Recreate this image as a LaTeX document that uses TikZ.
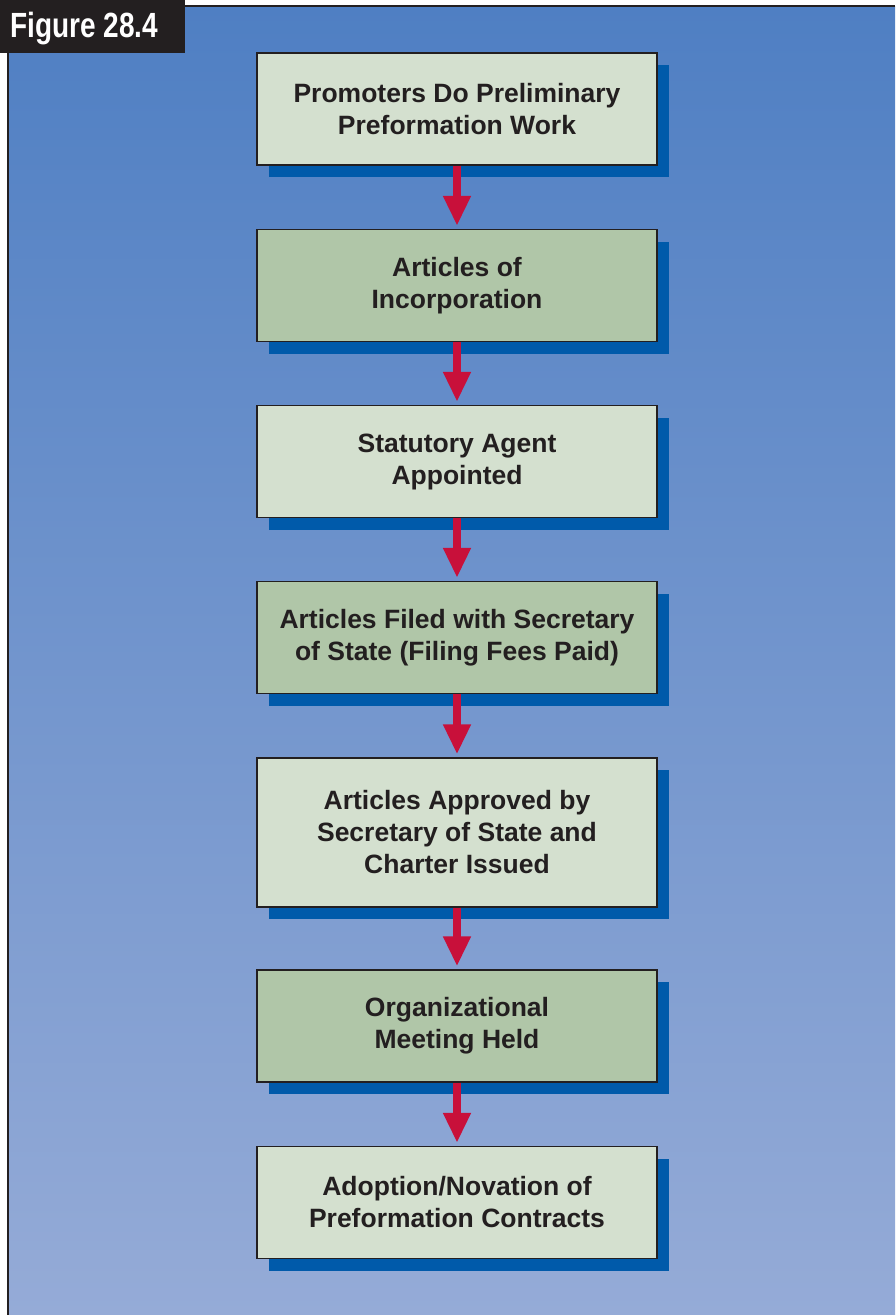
\documentclass[tikz,border=0pt]{standalone}
\usepackage{fontspec}
\setmainfont{Liberation Sans}
\newfontfamily\figfont[FakeStretch=0.8]{Liberation Sans}
\usetikzlibrary{arrows.meta,shadows}

\definecolor{panetop}{RGB}{79,127,195}
\definecolor{panebot}{RGB}{149,171,215}
\definecolor{paleface}{RGB}{212,224,207}
\definecolor{sageface}{RGB}{176,198,168}
\definecolor{shadeblue}{RGB}{0,90,170}
\definecolor{flowred}{RGB}{200,16,58}
\definecolor{inkgray}{RGB}{35,31,32}

\begin{document}
\begin{tikzpicture}[x=1pt, y=-1pt,
	stepbox/.style={draw=inkgray, line width=1.3pt, fill=paleface, minimum width=400pt, minimum height=112pt,
		inner sep=0pt, align=center, text=inkgray, font=\fontsize{26.5}{32}\selectfont\bfseries,
		drop shadow={shadow xshift=12pt, shadow yshift=-12pt, fill=shadeblue, opacity=1}},
	darkbox/.style={stepbox, fill=sageface},
	flow/.style={draw=flowred, line width=8pt, -{Triangle[width=26pt,length=30pt]}}]
	\useasboundingbox (0,0) rectangle (895,1315);
	\fill[white] (0,0) rectangle (895,1315);
	\shade[top color=panetop, bottom color=panebot] (8,6) rectangle (895,1315);
	\draw[inkgray, line width=1.5pt] (8,1315) -- (8,6) -- (895,6);
	\fill[inkgray] (0,0) rectangle (185,53);
	\node[text=white, anchor=base west, font=\figfont\fontsize{35}{35}\selectfont\bfseries] (fig) at (7,37) {Figure 28.4};

	\node[stepbox] (promo) at (457,109) {Promoters Do Preliminary\\Preformation Work};
	\node[darkbox] (artinc) at (457,285.5) {Articles of\\Incorporation};
	\node[stepbox] (agent) at (457,461.5) {Statutory Agent\\Appointed};
	\node[darkbox] (filed) at (457,637.5) {Articles Filed with Secretary\\of State (Filing Fees Paid)};
	\node[stepbox, minimum height=149pt] (approved) at (457,832.5) {Articles Approved by\\Secretary of State and\\Charter Issued};
	\node[darkbox] (meeting) at (457,1026) {Organizational\\Meeting Held};
	\node[stepbox] (novation) at (457,1202.5) {Adoption/Novation of\\Preformation Contracts};

	\foreach \a/\b in {promo/artinc, artinc/agent, agent/filed, filed/approved, approved/meeting, meeting/novation}
		\draw[flow] (\a.south) -- ([yshift=3pt]\b.north);
\end{tikzpicture}
\end{document}
